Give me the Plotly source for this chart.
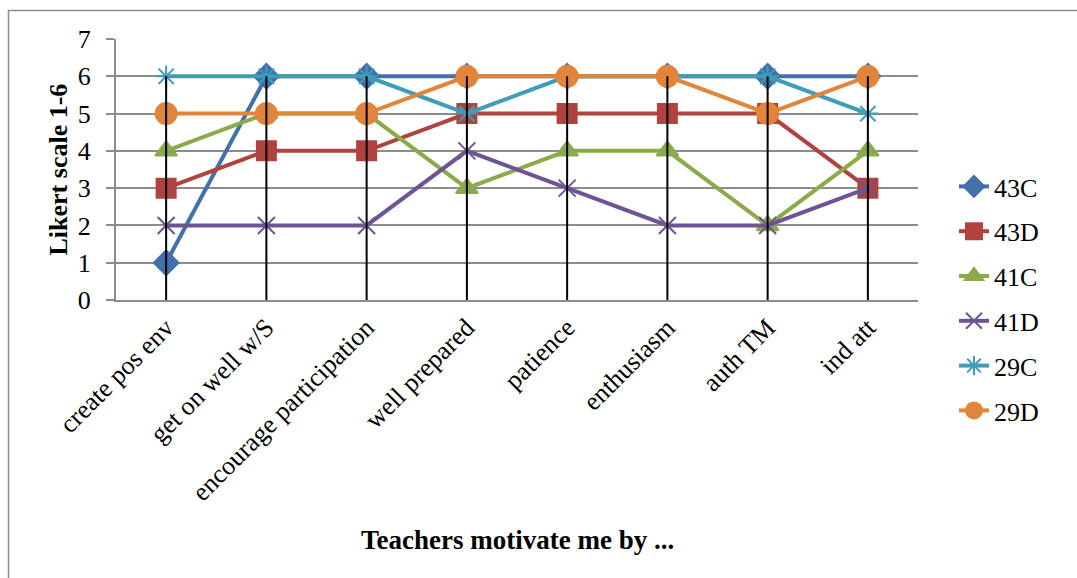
import plotly.graph_objects as go

categories = ["create pos env", "get on well w/S", "encourage participation", "well prepared",
              "patience", "enthusiasm", "auth TM", "ind att"]
s43C = [1, 6, 6, 6, 6, 6, 6, 6]
s43D = [3, 4, 4, 5, 5, 5, 5, 3]
s41C = [4, 5, 5, 3, 4, 4, 2, 4]
s41D = [2, 2, 2, 4, 3, 2, 2, 3]
s29C = [6, 6, 6, 5, 6, 6, 6, 5]
s29D = [5, 5, 5, 6, 6, 6, 5, 6]
series_names = ["43C", "43D", "41C", "41D", "29C", "29D"]
y_ticks = [0, 1, 2, 3, 4, 5, 6, 7]

series = [s43C, s43D, s41C, s41D, s29C, s29D]
colors = ["#4170AA", "#B0433F", "#8CAA4A", "#6E5494", "#3F9DB8", "#E2853A"]
symbols = ["diamond", "square", "triangle-up", "x-thin-open", "asterisk-open", "circle"]
sizes = [19, 19, 19, 17, 18, 21]

FONT = "Liberation Serif, Times New Roman, serif"
W, H = 1077, 578
L, R, T, B = 116, 918, 39, 300

fig = go.Figure()
xs = list(range(len(categories)))
for name, vals, c, sym, sz in zip(series_names, series, colors, symbols, sizes):
    fig.add_trace(go.Scatter(
        x=xs, y=vals, name=name, legendgroup=name, mode="lines+markers",
        line=dict(color=c, width=4),
        marker=dict(symbol=sym, size=sz, color=c, line=dict(color=c, width=2)),
    ))

# drop lines from highest point down to axis
dx, dy = [], []
for i in xs:
    m = max(s[i] for s in series)
    dx += [i, i, None]
    dy += [m, 0, None]
fig.add_trace(go.Scatter(x=dx, y=dy, mode="lines", line=dict(color="black", width=2),
                         showlegend=False, hoverinfo="skip"))

def px_x(p):
    return (p - L) / (R - L)

def px_y(p):
    return (B - p) / (B - T)

fig.add_shape(type="rect", xref="paper", yref="paper",
              x0=px_x(8.5), x1=px_x(1080), y0=px_y(600), y1=px_y(10.5),
              line=dict(color="#8C8C8C", width=1.5), fillcolor="rgba(0,0,0,0)", layer="below")

fig.add_annotation(text="<b>Teachers motivate me by ...</b>", xref="paper", yref="paper",
                   x=0.5, y=px_y(540), showarrow=False, font=dict(family=FONT, size=27, color="black"),
                   xanchor="center", yanchor="middle")
fig.add_annotation(text="<b>Likert scale 1-6</b>", xref="paper", yref="paper",
                   x=px_x(58), y=0.5, textangle=-90, showarrow=False,
                   font=dict(family=FONT, size=26, color="black"), xanchor="center", yanchor="middle")

fig.update_layout(
    width=W, height=H,
    margin=dict(l=L, r=W - R, t=T, b=H - B),
    paper_bgcolor="white", plot_bgcolor="white",
    font=dict(family=FONT, size=26, color="black"),
    showlegend=True,
    legend=dict(x=px_x(954), y=px_y(163), xanchor="left", yanchor="top",
                font=dict(family=FONT, size=26, color="black"), maxheight=420,
                tracegroupgap=8, itemsizing="trace", bgcolor="rgba(0,0,0,0)"),
)
fig.update_xaxes(
    range=[-0.5, len(categories) - 0.5], tickmode="array", tickvals=xs, ticktext=categories,
    tickangle=-45, showgrid=False, zeroline=False, showline=True, linecolor="#8C8C8C", linewidth=2,
    ticks="", tickfont=dict(family=FONT, size=26, color="black"), fixedrange=True,
)
fig.update_yaxes(
    range=[0, 7], tickmode="array", tickvals=y_ticks, showgrid=True, gridcolor="#8C8C8C", gridwidth=2,
    zeroline=False, showline=True, linecolor="#8C8C8C", linewidth=2,
    ticks="outside", ticklen=8, tickcolor="#8C8C8C", tickwidth=2,
    ticklabelstandoff=10, tickfont=dict(family=FONT, size=26, color="black"), fixedrange=True,
)

fig.write_html("out.html")
